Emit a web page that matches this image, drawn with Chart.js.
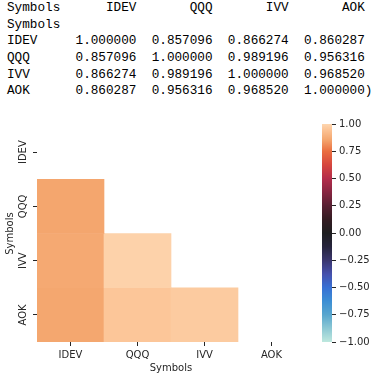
<!DOCTYPE html>
<html>
<head>
<meta charset="utf-8">
<script src="https://cdn.jsdelivr.net/npm/chart.js@4.4.0/dist/chart.umd.min.js"></script>
<style>
  body { margin: 0; width: 390px; height: 378px; background: #fff; position: relative; overflow: hidden; }
  #table { position: absolute; left: 7px; top: 0; margin: 0; font: 12.7px/16.67px "Liberation Mono", monospace; color: #000; }
  #heatWrap { position: absolute; left: 0; top: 110px; width: 315px; height: 268px; }
  #barWrap { position: absolute; left: 315px; top: 110px; width: 75px; height: 268px; }
</style>
</head>
<body>
<pre id="table"></pre>
<div id="heatWrap"><canvas id="heatChart"></canvas></div>
<div id="barWrap"><canvas id="colorBar"></canvas></div>
<script>
const symbols = ['IDEV', 'QQQ', 'IVV', 'AOK'];
const corrIDEV = [1.000000, 0.857096, 0.866274, 0.860287];
const corrQQQ = [0.857096, 1.000000, 0.989196, 0.956316];
const corrIVV = [0.866274, 0.989196, 1.000000, 0.968520];
const corrAOK = [0.860287, 0.956316, 0.968520, 1.000000];
const corr = [corrIDEV, corrQQQ, corrIVV, corrAOK];
const barMin = -1;
const barMax = 1;
const barStep = 0.25;

// rough icefire colormap, value -> rgb
const cmap = [
    [-1.0, [190, 232, 222]], [-0.875, [140, 200, 212]], [-0.75, [88, 166, 206]],
    [-0.625, [60, 142, 212]], [-0.5, [56, 112, 212]], [-0.375, [70, 80, 172]],
    [-0.25, [58, 54, 110]], [-0.125, [38, 36, 60]], [0, [30, 30, 32]],
    [0.125, [52, 28, 34]], [0.25, [88, 32, 50]], [0.375, [135, 37, 65]],
    [0.5, [180, 45, 75]], [0.625, [214, 70, 62]], [0.75, [234, 110, 64]],
    [0.857, [244, 166, 110]], [0.95, [252, 196, 150]], [1.0, [253, 214, 176]]
];

function icefire(v) {
    for (let k = 1; k < cmap.length; k++) {
        if (v <= cmap[k][0]) {
            const [v0, c0] = cmap[k - 1];
            const [v1, c1] = cmap[k];
            const t = (v - v0) / (v1 - v0);
            const c = c0.map((x, n) => Math.round(x + (c1[n] - x) * t));
            return `rgb(${c[0]},${c[1]},${c[2]})`;
        }
    }
    const c = cmap[cmap.length - 1][1];
    return `rgb(${c[0]},${c[1]},${c[2]})`;
}

// pandas-like printout
const lines = [];
lines.push('Symbols' + symbols.map(s => s.padStart(10)).join(''));
lines.push('Symbols');
symbols.forEach((s, i) => {
    lines.push(s.padEnd(7) + corr[i].map(v => v.toFixed(6).padStart(10)).join(''));
});
lines[lines.length - 1] += ')';
document.getElementById('table').textContent = lines.join('\n');

Chart.defaults.font.family = '"DejaVu Sans", sans-serif';
Chart.defaults.font.size = 10;
Chart.defaults.color = '#262626';

const textColor = '#262626';

const yLabels = {
    id: 'yLabels',
    afterDraw(chart) {
        const { ctx, scales: { y } } = chart;
        ctx.save();
        ctx.font = '10px "DejaVu Sans"';
        ctx.fillStyle = textColor;
        ctx.textAlign = 'center';
        ctx.textBaseline = 'middle';
        symbols.forEach((name, i) => {
            ctx.save();
            ctx.translate(y.right - 14, y.getPixelForValue(i + 0.5));
            ctx.rotate(-Math.PI / 2);
            ctx.fillText(name, 0, 0);
            ctx.restore();
        });
        ctx.restore();
    }
};

// one dataset per row, upper triangle + diagonal masked
const datasets = symbols.map((rowName, i) => ({
    label: rowName,
    data: symbols.map((colName, j) => j < i ? [i, i + 1] : null),
    backgroundColor: symbols.map((colName, j) => icefire(corr[i][j])),
    borderWidth: 0,
    barPercentage: 1,
    categoryPercentage: 1,
    grouped: false
}));

new Chart(document.getElementById('heatChart'), {
    type: 'bar',
    data: { labels: symbols, datasets: datasets },
    options: {
        responsive: true,
        maintainAspectRatio: false,
        animation: false,
        layout: { padding: { top: 15, right: 10, left: 0, bottom: 0 } },
        plugins: { legend: { display: false }, tooltip: { enabled: false } },
        scales: {
            x: {
                type: 'category',
                afterFit: s => { s.height = 36; },
                grid: { drawOnChartArea: false, offset: false, tickLength: 4, tickColor: textColor },
                border: { display: false },
                ticks: { padding: 3, maxRotation: 0, color: textColor },
                title: { display: true, text: 'Symbols', color: textColor, padding: { top: 0, bottom: 4 } }
            },
            y: {
                type: 'linear',
                min: 0,
                max: symbols.length,
                reverse: true,
                afterBuildTicks: s => { s.ticks = symbols.map((_, i) => ({ value: i + 0.5 })); },
                afterFit: s => { s.width = 37; },
                ticks: { display: false },
                grid: { drawOnChartArea: false, tickLength: 4, tickColor: textColor },
                border: { display: false },
                title: { display: true, text: 'Symbols', color: textColor, padding: { top: 4, bottom: 0 } }
            }
        }
    },
    plugins: [yLabels]
});

new Chart(document.getElementById('colorBar'), {
    type: 'bar',
    data: {
        labels: [''],
        datasets: [{
            data: [[barMin, barMax]],
            backgroundColor: (context) => {
                const chart = context.chart;
                if (!chart.chartArea) return null;
                const y = chart.scales.y;
                const g = chart.ctx.createLinearGradient(0, y.getPixelForValue(barMin), 0, y.getPixelForValue(barMax));
                cmap.forEach(([v]) => g.addColorStop((v - barMin) / (barMax - barMin), icefire(v)));
                return g;
            },
            borderWidth: 0,
            barPercentage: 1,
            categoryPercentage: 1
        }]
    },
    options: {
        responsive: true,
        maintainAspectRatio: false,
        animation: false,
        layout: { padding: { top: 14, right: 0, left: 7, bottom: 36 } },
        plugins: { legend: { display: false }, tooltip: { enabled: false } },
        scales: {
            x: { display: false },
            y: {
                position: 'right',
                min: barMin,
                max: barMax,
                afterFit: s => { s.width = 58; },
                ticks: {
                    stepSize: barStep,
                    padding: 3,
                    color: textColor,
                    callback: v => v.toFixed(2).replace('-', '\u2212')
                },
                grid: { drawOnChartArea: false, tickLength: 4, tickColor: textColor },
                border: { display: false }
            }
        }
    }
});
</script>
</body>
</html>
